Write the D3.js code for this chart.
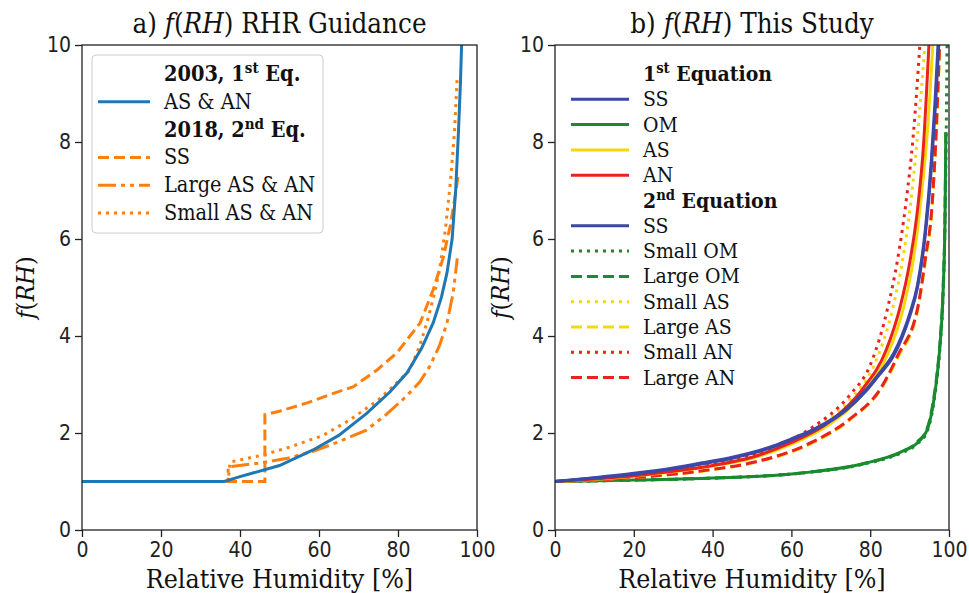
<!DOCTYPE html>
<html>
<head>
<meta charset="utf-8">
<script src="https://cdn.jsdelivr.net/npm/d3@7"></script>
<style>
  body { margin: 0; background: #fff; }
  svg text { font-family: "DejaVu Serif Condensed", "DejaVu Serif", serif; font-stretch: condensed; }
  .tick text { font-family: "DejaVu Sans Condensed", "DejaVu Sans", sans-serif; font-stretch: condensed; }
</style>
</head>
<body>
<svg id="drawing_region"></svg>
<script>
// ---- data (RH %, f(RH)) ----
const xTicks = [0, 20, 40, 60, 80, 100];
const yTicks = [0, 2, 4, 6, 8, 10];

// a) RHR guidance
const rhr2003 = [[0,1],[36,1],[40,1.1],[50,1.33],[58.5,1.65],[65,1.95],[72,2.4],[78,2.85],[82.3,3.24],[86,3.75],[88.9,4.27],[91,4.8],[92.4,5.3],[93.7,6.0],[94.6,7.0],[95.3,8.2],[95.8,9.2],[96.1,10]];
const rhrSS = [[0,1],[46.3,1],[46.3,2.38],[50,2.45],[57,2.62],[63,2.8],[68.6,2.95],[74.7,3.3],[79.7,3.65],[85.6,4.27],[88.9,4.95],[91.4,5.6],[93.3,6.3],[94.5,6.9],[95.2,7.3]];
const rhrLarge = [[0,1],[37,1],[37,1.3],[45,1.38],[52,1.48],[58.5,1.62],[65,1.82],[72,2.06],[77,2.38],[82,2.75],[85.5,3.05],[88,3.37],[90.5,3.8],[92.4,4.27],[94,4.9],[95,5.6]];
const rhrSmall = [[0,1],[37,1],[37.5,1.4],[46,1.55],[53,1.72],[61,1.95],[68,2.28],[75,2.68],[79,2.98],[83,3.3],[85.5,3.8],[87.3,4.27],[89,4.8],[90.5,5.35],[92,6.2],[93.3,7.2],[94.3,8.2],[95,9.35]];

// b) this study
const ss1 = [[0,1],[10,1.08],[20,1.17],[30,1.28],[37,1.38],[45,1.5],[50,1.6],[56,1.75],[60,1.88],[65,2.05],[69,2.22],[74,2.5],[79,2.9],[82,3.2],[86,3.65],[88,4.0],[90,4.45],[92,5.05],[94,6.2],[95.5,7.6],[96.5,8.9],[97.2,10]];
const ss2 = [[0,1],[10,1.07],[20,1.15],[30,1.26],[37,1.36],[45,1.48],[50,1.58],[56,1.73],[60,1.86],[65,2.03],[69,2.2],[74,2.48],[79,2.87],[82,3.17],[86,3.6],[88,3.95],[90,4.4],[92,5.0],[94,6.1],[95.5,7.45],[96.6,8.8],[97.4,10]];
const om1 = [[0,1],[20,1.03],[40,1.07],[62,1.17],[79,1.38],[87.6,1.6],[92,1.8],[94.4,2.05],[96,2.6],[97,3.2],[97.8,3.9],[98.5,4.9],[99,6.5],[99.2,8.2]];
const omSmall = [[0,1],[20,1.03],[40,1.07],[62,1.17],[79,1.37],[87.6,1.58],[92,1.78],[94.4,2.02],[96,2.55],[97,3.15],[97.8,3.85],[98.5,4.8],[99,6.4],[99.3,8.2],[99.5,10]];
const omLarge = [[0,1],[20,1.03],[40,1.07],[62,1.17],[79,1.38],[87.6,1.6],[92,1.82],[94.4,2.08],[96,2.65],[97,3.25],[97.8,3.95],[98.5,5.0],[99,6.6],[99.2,8.2]];
const as1 = [[0,1],[20,1.11],[40,1.32],[50,1.48],[60,1.77],[70,2.2],[78,2.8],[84,3.55],[88.5,4.6],[91,5.6],[93,6.9],[94.5,8.2],[95.9,10]];
const an1 = [[0,1],[20,1.12],[40,1.33],[50,1.5],[59.6,1.79],[70,2.25],[78,2.9],[84,3.7],[87.6,4.6],[90,5.5],[92,6.6],[93.5,7.9],[94.9,10]];
const asSmall = [[0,1],[20,1.12],[40,1.34],[55,1.68],[65,2.05],[75,2.7],[81,3.4],[85.8,4.6],[88.5,5.7],[90.5,6.9],[92.3,8.4],[93.9,10]];
const asLarge = [[0,1],[20,1.08],[40,1.24],[49.5,1.37],[64.7,1.77],[75,2.28],[82.5,2.88],[87,3.55],[92.1,4.55],[94,5.55],[95.7,6.65],[96.8,8.25],[97.7,10]];
const anSmall = [[0,1],[20,1.13],[40,1.35],[55,1.7],[65,2.1],[75,2.8],[80,3.4],[84.5,4.6],[87,5.6],[89,6.7],[91,8.2],[92.6,10]];
const anLarge = [[0,1],[20,1.08],[40,1.25],[49.5,1.38],[64.7,1.79],[75,2.3],[82.5,2.9],[87,3.6],[92.1,4.6],[94,5.6],[95.7,6.7],[96.8,8.3],[97.6,10]];

const blue = "#1f77b4", orange = "#ff7f0e";
const cSS = "#3c48a6", cOM = "#1a8a2e", cAS = "#f7d708", cAN = "#e8221c";

const svg = d3.select("#drawing_region").attr("width", 969).attr("height", 593);

function panel(id, left, right, title, ylabelX, curve) {
  const top = 45, bottom = 530;
  const x = d3.scaleLinear().domain([0, 100]).range([left, right]);
  const y = d3.scaleLinear().domain([0, 10]).range([bottom, top]);
  const g = svg.append("g");

  svg.append("clipPath").attr("id", "clip" + id)
    .append("rect").attr("x", left).attr("y", top).attr("width", right - left).attr("height", bottom - top);
  const plot = g.append("g").attr("clip-path", `url(#clip${id})`);

  g.append("g").attr("transform", `translate(0,${bottom})`)
    .call(d3.axisBottom(x).tickValues(xTicks).tickSize(7).tickPadding(5))
    .call(a => a.selectAll("text").attr("font-size", 21).attr("fill", "#222"))
    .call(a => a.select(".domain").remove());
  g.append("g").attr("transform", `translate(${left},0)`)
    .call(d3.axisLeft(y).tickValues(yTicks).tickSize(7).tickPadding(4))
    .call(a => a.selectAll("text").attr("font-size", 21).attr("fill", "#222"))
    .call(a => a.select(".domain").remove());
  g.selectAll(".tick line").attr("stroke", "#222").attr("stroke-width", 1.3);

  const t = g.append("text").attr("x", (left + right) / 2).attr("y", 33)
    .attr("text-anchor", "middle").attr("font-size", 27.5).attr("fill", "#111");
  t.append("tspan").text(title[0]);
  t.append("tspan").attr("font-style", "italic").text("f");
  t.append("tspan").text("(");
  t.append("tspan").attr("font-style", "italic").text("RH");
  t.append("tspan").text(")" + title[1]);

  const yl = g.append("text").attr("transform", `translate(${ylabelX},${(top + bottom) / 2}) rotate(-90)`)
    .attr("text-anchor", "middle").attr("font-size", 25).attr("fill", "#111");
  yl.append("tspan").attr("font-style", "italic").text("f");
  yl.append("tspan").text("(");
  yl.append("tspan").attr("font-style", "italic").text("RH");
  yl.append("tspan").text(")");

  g.append("text").attr("x", (left + right) / 2).attr("y", 588)
    .attr("text-anchor", "middle").attr("font-size", 26.5).attr("fill", "#111")
    .text("Relative Humidity [%]");

  const line = d3.line().curve(curve).x(d => x(d[0])).y(d => y(d[1]));
  return { g, plot, line, frame: () => g.append("rect").attr("x", left).attr("y", top)
      .attr("width", right - left).attr("height", bottom - top)
      .attr("fill", "none").attr("stroke", "#222").attr("stroke-width", 1.3) };
}

function draw(p, data, color, dash, w) {
  p.plot.append("path").datum(data).attr("d", p.line)
    .attr("fill", "none").attr("stroke", color).attr("stroke-width", w || 3)
    .attr("stroke-dasharray", dash || null);
}

const dashed = "11,5", dotted = "3,5", dashdot = "18,5,4,5,4,5";

// ---- panel a ----
const pa = panel("a", 82, 477, ["a) ", " RHR Guidance"], 34, d3.curveLinear);
draw(pa, rhrSS, orange, dashed);
draw(pa, rhrLarge, orange, dashdot);
draw(pa, rhrSmall, orange, dotted);
draw(pa, rhr2003, blue, null);
pa.frame();

// legend a
const la = pa.g.append("g");
la.append("rect").attr("x", 92).attr("y", 55).attr("width", 231).attr("height", 178)
  .attr("rx", 4).attr("fill", "#fff").attr("fill-opacity", 0.85).attr("stroke", "#ccc");
const legA = [
  { head: ["2003, 1", "st", " Eq."] },
  { label: "AS & AN", color: blue, dash: null },
  { head: ["2018, 2", "nd", " Eq."] },
  { label: "SS", color: orange, dash: dashed },
  { label: "Large AS & AN", color: orange, dash: dashdot },
  { label: "Small AS & AN", color: orange, dash: dotted }
];
function legendRows(g, rows, x0, x1, tx, y0, dy, fs) {
  rows.forEach((r, i) => {
    const cy = y0 + i * dy;
    if (r.head) {
      const t = g.append("text").attr("x", tx).attr("y", cy + 7).attr("font-size", fs)
        .attr("font-weight", "bold").attr("fill", "#111");
      t.append("tspan").text(r.head[0]);
      t.append("tspan").attr("font-size", fs * 0.7).attr("dy", -8).text(r.head[1]);
      t.append("tspan").attr("dy", 8).text(r.head[2]);
    } else {
      g.append("line").attr("x1", x0).attr("x2", x1).attr("y1", cy).attr("y2", cy)
        .attr("stroke", r.color).attr("stroke-width", 3).attr("stroke-dasharray", r.dash);
      g.append("text").attr("x", tx).attr("y", cy + 7).attr("font-size", fs)
        .attr("fill", "#111").text(r.label);
    }
  });
}
legendRows(la, legA, 98, 150, 164, 74, 27.8, 21.5);

// ---- panel b ----
const pb = panel("b", 555, 949, ["b) ", " This Study"], 509, d3.curveMonotoneX);
draw(pb, omSmall, cOM, dotted);
draw(pb, omLarge, cOM, dashed);
draw(pb, om1, cOM, null);
draw(pb, asSmall, cAS, dotted);
draw(pb, anSmall, cAN, dotted);
draw(pb, asLarge, cAS, dashed);
draw(pb, anLarge, cAN, dashed);
draw(pb, as1, cAS, null);
draw(pb, an1, cAN, null);
draw(pb, ss2, cSS, null);
draw(pb, ss1, cSS, null);
pb.frame();

const legB = [
  { head: ["1", "st", " Equation"] },
  { label: "SS", color: cSS, dash: null },
  { label: "OM", color: cOM, dash: null },
  { label: "AS", color: cAS, dash: null },
  { label: "AN", color: cAN, dash: null },
  { head: ["2", "nd", " Equation"] },
  { label: "SS", color: cSS, dash: null },
  { label: "Small OM", color: cOM, dash: dotted },
  { label: "Large OM", color: cOM, dash: dashed },
  { label: "Small AS", color: cAS, dash: dotted },
  { label: "Large AS", color: cAS, dash: dashed },
  { label: "Small AN", color: cAN, dash: dotted },
  { label: "Large AN", color: cAN, dash: dashed }
];
legendRows(pb.g.append("g"), legB, 571, 629, 643, 74, 25.3, 21);
</script>
</body>
</html>
